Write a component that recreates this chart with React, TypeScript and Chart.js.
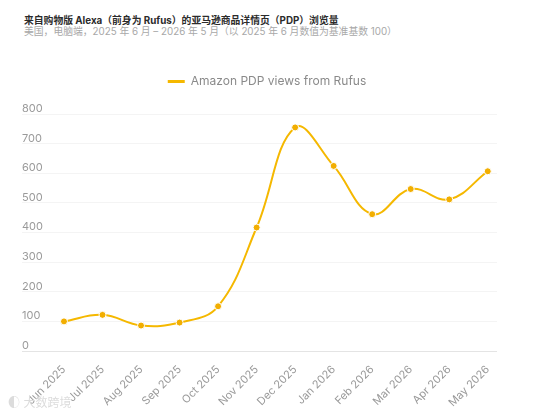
import React, { useEffect, useRef } from "react";
import { Chart, registerables } from "chart.js";

Chart.register(...registerables);

const TITLE = "来自购物版 Alexa（前身为 Rufus）的亚马逊商品详情页（PDP）浏览量";
const SUBTITLE = "美国，电脑端，2025 年 6 月 – 2026 年 5 月（以 2025 年 6 月数值为基准基数 100）";
const SERIES_NAME = "Amazon PDP views from Rufus";

const months = [
  "Jun 2025", "Jul 2025", "Aug 2025", "Sep 2025", "Oct 2025", "Nov 2025",
  "Dec 2025", "Jan 2026", "Feb 2026", "Mar 2026", "Apr 2026", "May 2026",
];
const views = [100, 122, 86, 96, 151, 417, 755, 625, 462, 547, 512, 607];
const yTicks = [0, 100, 200, 300, 400, 500, 600, 700, 800];

const FONT = "Inter, 'Noto Sans CJK SC', sans-serif";

export default function App() {
  const ref = useRef<HTMLCanvasElement | null>(null);

  useEffect(() => {
    document.body.style.margin = "0";
    document.body.style.background = "#ffffff";
    const canvas = ref.current;
    if (!canvas) return;
    Chart.defaults.font.family = FONT;
    const chart = new Chart(canvas, {
      type: "line",
      data: {
        datasets: [
          {
            label: SERIES_NAME,
            data: views.map((v, i) => ({ x: i, y: v })),
            borderColor: "#F5B800",
            backgroundColor: "#F5B800",
            borderWidth: 2,
            tension: 0.4,
            pointRadius: 3.5,
            pointBackgroundColor: "#F2AE00",
            pointBorderColor: "#ffffff",
            pointBorderWidth: 1,
            clip: false as any,
          },
        ],
      },
      options: {
        animation: false,
        responsive: false,
        layout: { padding: { left: 1, right: 0, top: 0, bottom: 0 } },
        plugins: {
          tooltip: { enabled: false },
          legend: {
            display: true,
            position: "top",
            labels: {
              color: "#8a8a8a",
              font: { size: 12, family: FONT },
              boxWidth: 17,
              boxHeight: 3,
              padding: 31.5,
              generateLabels: (c: any) =>
                Chart.defaults.plugins.legend.labels
                  .generateLabels(c)
                  .map((l: any) => ({ ...l, lineWidth: 0, fillStyle: "#F5B800" })),
            },
          },
        },
        scales: {
          x: {
            type: "linear",
            min: -1.09,
            max: 11.24,
            grid: { display: false },
            border: { display: false },
            afterFit: (s: any) => {
              s.height = 62;
              s.paddingLeft = 0;
              s.paddingRight = 36;
            },
            ticks: {
              stepSize: 1,
              includeBounds: false,
              autoSkip: false,
              minRotation: 45,
              maxRotation: 45,
              padding: 4,
              color: "#9a9a9a",
              font: { size: 11, family: FONT },
              callback: (v: any) => months[v as number] ?? "",
            },
          },
          y: {
            min: 0,
            max: 800,
            afterFit: (s: any) => {
              s.width = 21;
            },
            afterBuildTicks: (s: any) => {
              s.ticks = yTicks.map((v) => ({ value: v }));
            },
            border: { display: false },
            grid: {
              drawTicks: false,
              color: (ctx: any) => (ctx.tick && ctx.tick.value === 0 ? "#e4e4e4" : "#f4f4f4"),
              lineWidth: 1,
            },
            ticks: {
              mirror: true,
              padding: 0,
              labelOffset: -5.5,
              color: "#9a9a9a",
              font: { size: 11, family: FONT },
            },
          },
        },
      },
    });
    const lg: any = (chart as any).legend;
    if (lg) {
      const origFit = lg.fit.bind(lg);
      lg.fit = () => {
        origFit();
        lg.height += 16.6;
      };
      chart.update();
    }
    return () => chart.destroy();
  }, []);

  return (
    <div style={{ position: "relative", width: 533, height: 413, background: "#fff", fontFamily: FONT, overflow: "hidden" }}>
      <div style={{ position: "absolute", left: 24, top: 14.7, fontSize: 9.8, fontWeight: 700, color: "#2b2b2b", whiteSpace: "nowrap", lineHeight: "12px" }}>
        {TITLE}
      </div>
      <div style={{ position: "absolute", left: 24, top: 26.3, fontSize: 9.8, color: "#a8a8a8", whiteSpace: "nowrap", lineHeight: "12px" }}>
        {SUBTITLE}
      </div>
      <canvas
        ref={ref}
        width={533}
        height={369}
        style={{ position: "absolute", left: 0, top: 44, width: 533, height: 369 }}
      />
      <div style={{ position: "absolute", left: 8, top: 396, fontSize: 12, color: "#dcdcdc", whiteSpace: "nowrap", lineHeight: "14px" }}>
        ◐ 大数跨境
      </div>
    </div>
  );
}
